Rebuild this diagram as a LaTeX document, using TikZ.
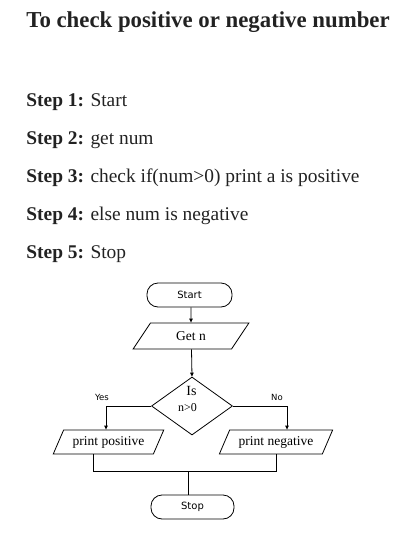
\documentclass[tikz,border=0pt]{standalone}
\usepackage{fontspec}
\setmainfont{Liberation Serif}
\newfontfamily\chartsans{DejaVu Sans}
\usetikzlibrary{shapes.geometric,arrows.meta}
\definecolor{ink}{HTML}{222222}
\begin{document}
\begin{tikzpicture}[x=1pt,y=-1pt,
  line width=0.8pt,
  title/.style={anchor=base west,inner sep=0,text=ink,font=\fontsize{22.8}{26}\selectfont\bfseries},
  stepline/.style={anchor=base west,inner sep=0,text=ink,font=\fontsize{19.4}{23}\selectfont},
  term/.style={draw,rounded corners=11pt,inner sep=0,font=\chartsans\fontsize{10}{11}\selectfont},
  io/.style={draw,trapezium,trapezium left angle=55,trapezium right angle=125,trapezium stretches=true,inner sep=0},
  dec/.style={draw,diamond,inner sep=0,minimum width=81pt,minimum height=58pt},
  lbl/.style={inner sep=0,font=\chartsans\fontsize{8.5}{9}\selectfont},
  arr/.style={-{Triangle[length=4pt,width=3.5pt]}}]
\useasboundingbox (0,0) rectangle (409,533);
\node[title] (t) at (26,27) {To check positive or negative number};
\node[stepline] (s1) at (26,106) {\textbf{Step 1:} Start};
\node[stepline] (s2) at (26,144) {\textbf{Step 2:} get num};
\node[stepline] (s3) at (26,182) {\textbf{Step 3:} check if(num>0) print a is positive};
\node[stepline] (s4) at (26,220) {\textbf{Step 4:} else num is negative};
\node[stepline] (s5) at (26,258) {\textbf{Step 5:} Stop};

\node[term,minimum width=85pt,minimum height=24pt] (start) at (189.5,295) {Start};
\node[io,minimum width=116pt,minimum height=26pt,font=\fontsize{13.5}{14}\selectfont] (getn) at (191,336) {Get n};
\node[dec] (dia) at (192,406) {};
\node[inner sep=0,font=\fontsize{14}{15}\selectfont] (is) at (191.5,391) {Is};
\node[inner sep=0,font=\fontsize{12}{13}\selectfont] (cond) at (187.5,408) {n>0};
\node[io,minimum width=111pt,minimum height=24pt,font=\fontsize{13.5}{14}\selectfont] (pp) at (108.5,442) {print positive};
\node[io,minimum width=114pt,minimum height=24pt,font=\fontsize{13.5}{14}\selectfont] (pn) at (276,442) {print negative};
\node[term,minimum width=83pt,minimum height=24pt] (stop) at (192.5,507) {Stop};
\node[lbl] (yes) at (102,397) {Yes};
\node[lbl] (no) at (277,397) {No};
\coordinate (j) at (188,471);

\draw[arr] ([xshift=1.5pt]start.south) -- ([xshift=0pt]getn.north);
\draw[arr] ([xshift=0.5pt]getn.south) -- (dia.north);
\draw[arr] (dia.west) -| ([xshift=-2.5pt]pp.north);
\draw[arr] (dia.east) -| ([xshift=11pt]pn.north);
\draw ([xshift=-15.5pt]pp.south) |- (j);
\draw (pn.south) |- (j);
\draw (j) -- ([xshift=-4.5pt]stop.north);
\end{tikzpicture}
\end{document}
